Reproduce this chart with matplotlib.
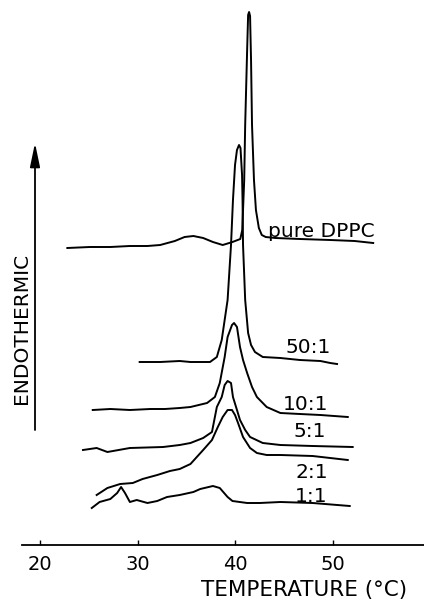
import matplotlib
matplotlib.use("Agg")
import matplotlib.pyplot as plt

# ---- data (temperature in °C, heat flow in arbitrary units) ----
t_pure = [22.8, 25.1, 27.2, 29.2, 31.0, 32.3, 33.8, 34.8, 35.7, 36.7, 37.7, 38.7, 39.7, 40.5,
          40.7, 40.9, 41.0, 41.2, 41.3, 41.4, 41.5, 41.6, 41.7, 41.9, 42.1, 42.4, 42.7, 43.1,
          44.1, 46.6, 49.7, 52.2, 54.1]
y_pure = [296, 297, 297, 298, 298, 299, 303, 307, 308, 306, 302, 299, 302, 305,
          314, 364, 419, 494, 529, 532, 528, 484, 419, 364, 334, 316, 309, 307,
          306, 305, 304, 303, 301]

t_50 = [30.2, 32.3, 34.3, 35.4, 37.4, 38.1, 38.6, 38.9, 39.2, 39.55, 39.75, 39.96, 40.16, 40.37,
        40.52, 40.68, 40.73, 40.78, 41.0, 41.3, 41.6, 42.0, 42.8, 44.6, 46.6, 48.7, 49.7, 50.4]
y_50 = [182, 182, 183, 182, 182, 187, 204, 224, 244, 299, 344, 379, 394, 399,
        396, 369, 344, 299, 244, 211, 199, 192, 187, 186, 184, 183, 181, 180]

t_10 = [25.4, 27.2, 29.2, 31.3, 32.8, 34.3, 35.4, 37.1, 37.9, 38.4, 38.9, 39.2, 39.65, 39.86,
        40.16, 40.47, 40.78, 41.2, 41.7, 42.2, 43.2, 44.6, 46.6, 48.7, 51.5]
y_10 = [134, 135, 134, 135, 135, 136, 137, 141, 147, 161, 187, 207, 219, 221,
        217, 197, 184, 171, 157, 147, 137, 131, 130, 129, 127]

t_5 = [24.4, 25.8, 26.9, 29.2, 32.6, 34.3, 35.4, 36.7, 37.6, 37.9, 38.1, 38.6, 38.9, 39.2,
       39.55, 39.75, 40.16, 40.47, 41.0, 41.5, 42.8, 44.6, 47.9, 52.0]
y_5 = [94, 96, 92, 96, 97, 99, 101, 106, 112, 127, 137, 147, 159, 163,
       161, 147, 134, 124, 114, 107, 101, 99, 98, 97]

t_2 = [25.8, 26.9, 28.2, 29.5, 30.5, 32.0, 33.3, 34.3, 35.4, 36.7, 37.6, 38.2, 38.7, 39.2,
       39.65, 39.96, 40.27, 40.78, 41.5, 42.2, 43.2, 44.6, 47.9, 51.5]
y_2 = [49, 56, 60, 61, 65, 69, 73, 75, 80, 94, 104, 117, 127, 134,
       134, 129, 121, 107, 96, 91, 89, 89, 88, 84]

t_1 = [25.3, 26.1, 27.2, 27.9, 28.3, 28.7, 29.2, 29.9, 31.0, 32.0, 33.0, 34.3, 35.7, 36.4,
       37.7, 38.4, 39.2, 39.7, 41.2, 42.5, 44.6, 47.9, 51.7]
y_1 = [36, 42, 45, 51, 57, 51, 42, 44, 41, 43, 47, 49, 52, 55,
       58, 56, 47, 43, 41, 41, 42, 41, 38]

curves = [(t_pure, y_pure), (t_50, y_50), (t_10, y_10), (t_5, y_5), (t_2, y_2), (t_1, y_1)]

labels = ["pure DPPC", "50:1", "10:1", "5:1", "2:1", "1:1"]
label_t = [43.3, 45.1, 44.9, 45.9, 46.1, 46.1]
label_y = [307, 191, 134, 107, 66, 42]

xticks = [20, 30, 40, 50]
xlabel = "TEMPERATURE (°C)"
ylabel = "ENDOTHERMIC"

# ---- figure ----
W, H = 424, 606
fig = plt.figure(figsize=(W / 100, H / 100), dpi=100)
ax = fig.add_axes([22 / W, 1 - 545 / H, 1 - 22 / W, 545 / H])
ax.set_xlim(18.16, 59.3)
ax.set_ylim(-1, 544)

for t, y in curves:
    ax.plot(t, y, color="black", lw=1.4, solid_joinstyle="round")

for lab, lt, ly in zip(labels, label_t, label_y):
    ax.text(lt, ly, lab, fontsize=14.5, ha="left", va="baseline", color="black")

for s in ["top", "right", "left"]:
    ax.spines[s].set_visible(False)
ax.spines["bottom"].set_linewidth(1.3)
ax.set_yticks([])
ax.set_xticks(xticks)
ax.set_xticklabels([str(v) for v in xticks], fontsize=14)
ax.tick_params(axis="x", direction="in", length=3.5, width=1.0, pad=7)

fig.text(304 / W, 1 - 590 / H, xlabel, fontsize=15.5, ha="center", va="center")
fig.text(22 / W, 1 - 328 / H, ylabel, fontsize=14.5, ha="center", va="center", rotation=90)

ax.annotate("", xy=(35 / W, 1 - 143 / H), xytext=(35 / W, 1 - 430 / H),
            xycoords="figure fraction", textcoords="figure fraction",
            arrowprops=dict(arrowstyle="-|>,head_length=1.2,head_width=0.25",
                            mutation_scale=12, lw=1.3, color="black",
                            shrinkA=0, shrinkB=0))

fig.savefig("out.png", dpi=100)
